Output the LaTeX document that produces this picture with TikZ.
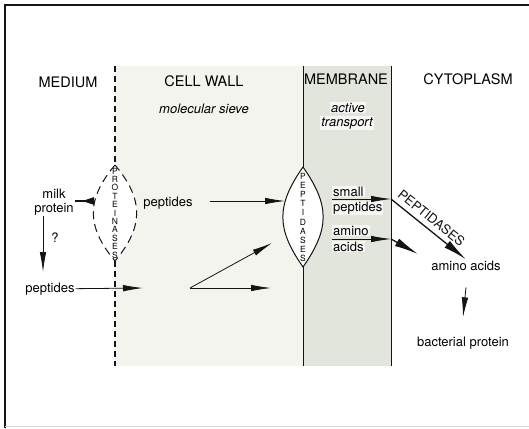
\documentclass[tikz,border=0pt]{standalone}
\usepackage{fontspec}
\setmainfont{TeX Gyre Heros}
\usepackage{tikz}
\usetikzlibrary{arrows.meta,positioning,calc}
\definecolor{inkdark}{RGB}{20,20,20}
\definecolor{wallfill}{RGB}{243,244,237}
\definecolor{membfill}{RGB}{226,229,219}

\begin{document}
\begin{tikzpicture}[x=1pt, y=-1pt,
  region/.style={font=\fontsize{14.5}{16}\selectfont, inner sep=1pt},
  lbl/.style={font=\fontsize{13}{15}\selectfont, inner sep=1pt},
  note/.style={font=\fontsize{13}{15}\selectfont\itshape, inner sep=1pt},
  tag/.style={lbl, fill=white!70!membfill},
  enz/.style={font=\fontsize{8.5}{#1}\selectfont, align=center, inner sep=0pt},
  arr/.style={-{Latex[length=20pt,width=6.5pt]}, line width=0.8pt, inkdark},
  fat/.style={-{Latex[length=24pt,width=8.5pt]}, line width=1.3pt, inkdark},
  wedge/.style={-{Triangle[reversed,length=12pt,width=7pt]}, line width=2.5pt, inkdark},
  wall/.style={line width=1.6pt, dash pattern=on 6pt off 4pt, inkdark},
  lensdash/.style={line width=1pt, dash pattern=on 8pt off 5pt, inkdark},
  memb/.style={line width=1pt, inkdark}
]
\useasboundingbox (0,0) rectangle (529,428);

\fill[wallfill] (115,66) rectangle (303,366);
\fill[membfill] (303,66) rectangle (391,366);
\draw[line width=1.4pt, inkdark] (5,428) -- (5,5) -- (529,5);
\draw[gray!30] (5,426) -- (529,426);

\coordinate (walltop) at (115,66);
\coordinate (wallbot) at (115,366);
\coordinate (protop) at (115,165);
\coordinate (probot) at (115,261);
\coordinate (membtop) at (303,66);
\coordinate (membbot) at (303,366);
\coordinate (peptop) at (303,167);
\coordinate (pepbot) at (303,267);

\draw[wall] (walltop) -- (protop);
\draw[wall] (probot) -- (wallbot);
\draw[lensdash, fill=white] (protop) to[bend right=40, looseness=1.2] (probot)
  to[bend right=40, looseness=1.2] (protop);
\draw[memb] (membtop) -- (peptop);
\draw[memb] (pepbot) -- (membbot);
\draw[memb, fill=white] (peptop) to[bend right=35, looseness=1.2] (pepbot)
  to[bend right=35, looseness=1.2] (peptop);
\draw[memb] (391,66) -- (391,366);

\node[enz=8.4] (proteinases) at (115,213) {P\\R\\O\\T\\E\\I\\N\\A\\S\\E\\S};
\node[enz=9.1] (peptidasesin) at (303,217.5) {P\\E\\P\\T\\I\\D\\A\\S\\E\\S};

\node[region, anchor=base] (medium) at (68,87) {MEDIUM};
\node[region, anchor=base] (cellwall) at (204,86) {CELL WALL};
\node[region, anchor=base] (membrane) at (346,84) {MEMBRANE};
\node[region, anchor=base] (cytoplasm) at (468,84) {CYTOPLASM};
\node[note, anchor=base] (sieve) at (204,113) {molecular sieve};
\node[note, anchor=base, fill=white!70!membfill] (active) at (348,112) {active};
\node[note, anchor=base, fill=white!70!membfill] (transport) at (347,126) {transport};

\node[lbl, anchor=base] (milk) at (54,198) {milk};
\node[lbl, anchor=base] (protein) at (54,212) {protein};
\node[lbl, anchor=base] (query) at (55,242) {?};
\node[lbl, anchor=base] (pepmed) at (50,292) {peptides};
\node[lbl, anchor=base] (pepwall) at (168,206) {peptides};
\node[tag, anchor=base west] (small) at (332,196) {small};
\node[tag, anchor=base west] (pepmemb) at (332,211) {peptides};
\node[tag, anchor=base west] (amino) at (332,235) {amino};
\node[tag, anchor=base west] (acids) at (332,251) {acids};
\node[lbl, anchor=base] (aminocyt) at (466,270) {amino acids};
\node[lbl, anchor=base] (bactprot) at (463,346) {bacterial protein};

\coordinate (milkin) at (94,201);
\coordinate (qtop) at (43,216);
\coordinate (qend) at (43,272);
\coordinate (pepin) at (143,288);
\coordinate (lensin) at (285,201);
\coordinate (fork) at (190,288);
\coordinate (forkup) at (272,243);
\coordinate (forkright) at (271,288);
\coordinate (smallin) at (332,199);
\coordinate (smallout) at (391,199);
\coordinate (aminoin) at (332,239);
\coordinate (aminoout) at (391,239);
\coordinate (aminoend) at (418,254);

\draw[wedge] (protein.east |- milkin) -- (milkin);
\draw[arr] (qtop) -- (qend);
\draw[arr] (pepmed.east) -- (pepin);
\draw[arr] ($(pepwall.east |- lensin)+(16,0)$) -- (lensin);
\draw[arr] (fork) -- (forkup);
\draw[arr] (fork) -- (forkright);
\draw[arr] (smallin) -- (smallout);
\draw[fat] (smallout) -- node[lbl, sloped, above=4pt, pos=0.45] (peptidases) {PEPTIDASES} (aminocyt.north);
\draw[arr] (aminoin) -- (aminoout);
\draw[fat] (aminoout) -- (aminoend);
\draw[arr] ($(aminocyt.south)+(0,16)$) -- ($(bactprot.north)+(0,-18)$);
\end{tikzpicture}
\end{document}
